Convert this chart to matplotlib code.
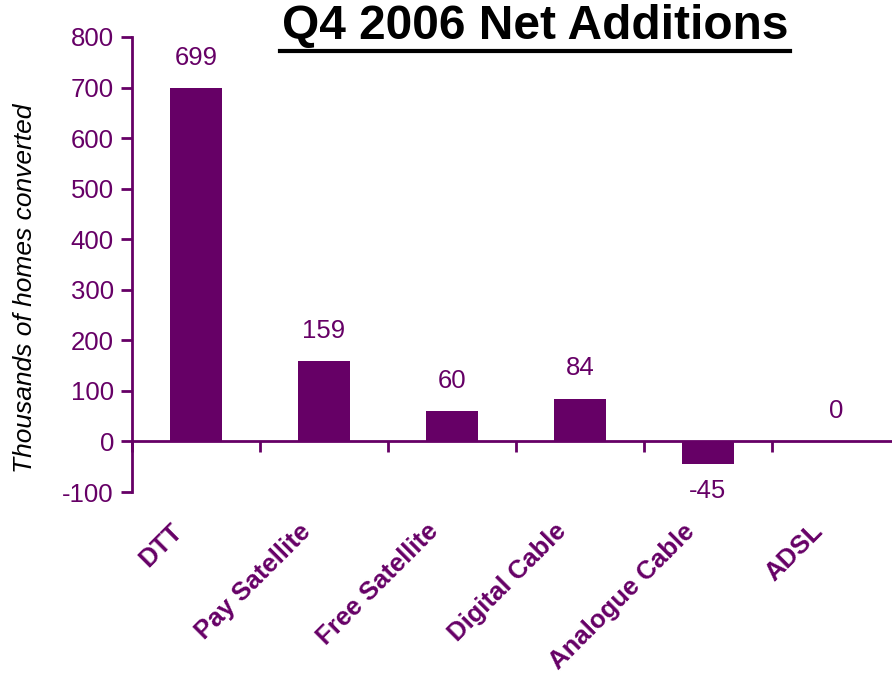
import numpy as np
import matplotlib.pyplot as plt

plt.rcParams['font.family'] = ['Liberation Sans', 'DejaVu Sans']
plt.rcParams['axes.unicode_minus'] = False

categories = ["DTT", "Pay Satellite", "Free Satellite", "Digital Cable", "Analogue Cable", "ADSL"]
net_adds = [699, 159, 60, 84, -45, 0]
yticks = [-100, 0, 100, 200, 300, 400, 500, 600, 700, 800]

purple = "#660066"

fig = plt.figure(figsize=(8.92, 6.77), dpi=100)
# axes runs a little past the right edge, like the original slide
ax = fig.add_axes([132 / 892, 1 - 492 / 677, 768 / 892, 455 / 677])

x = np.arange(len(categories))
ax.bar(x, net_adds, width=0.41, color=purple, zorder=2)

for xi, v in zip(x, net_adds):
    if v >= 0:
        ax.annotate(str(v), (xi, v), xytext=(0, 22), textcoords="offset points",
                    ha="center", va="center", fontsize=18.5, color=purple)
    else:
        ax.annotate(str(v), (xi, v), xytext=(0, -19.5), textcoords="offset points",
                    ha="center", va="center", fontsize=18.5, color=purple)

ax.set_xlim(-0.5, len(categories) - 0.5)
ax.set_ylim(-100, 800)
ax.set_yticks(yticks)
ax.tick_params(axis="y", direction="out", length=8, width=2, colors=purple,
               labelsize=18.5, pad=5)

# zero line is the category axis, ticks between categories
ax.spines["top"].set_visible(False)
ax.spines["right"].set_visible(False)
ax.spines["bottom"].set_position(("data", 0))
ax.spines["bottom"].set_color(purple)
ax.spines["bottom"].set_linewidth(2)
ax.spines["left"].set_color(purple)
ax.spines["left"].set_linewidth(2)
ax.set_xticks(np.arange(len(categories) + 1) - 0.5)
ax.set_xticklabels([])
ax.tick_params(axis="x", direction="out", length=8, width=2, colors=purple)

for xi, name in zip(x, categories):
    ax.text(xi - 0.20, -154, name, rotation=45, ha="right", va="top",
            fontsize=18.5, fontweight="bold", color=purple, rotation_mode="anchor",
            clip_on=False)

fig.text(25 / 892, 1 - 288 / 677, "Thousands of homes converted", rotation=90,
         ha="center", va="center", fontsize=19, style="italic", color="black")

fig.text(535 / 892, 1 - 27 / 677, "Q4 2006 Net Additions", ha="center", va="center",
         fontsize=34.5, fontweight="bold", color="black")
# underline under title
fig.add_artist(plt.Line2D([280 / 892, 790 / 892], [1 - 51 / 677, 1 - 51 / 677],
                          color="black", linewidth=3))

fig.savefig("out.png", dpi=100)
